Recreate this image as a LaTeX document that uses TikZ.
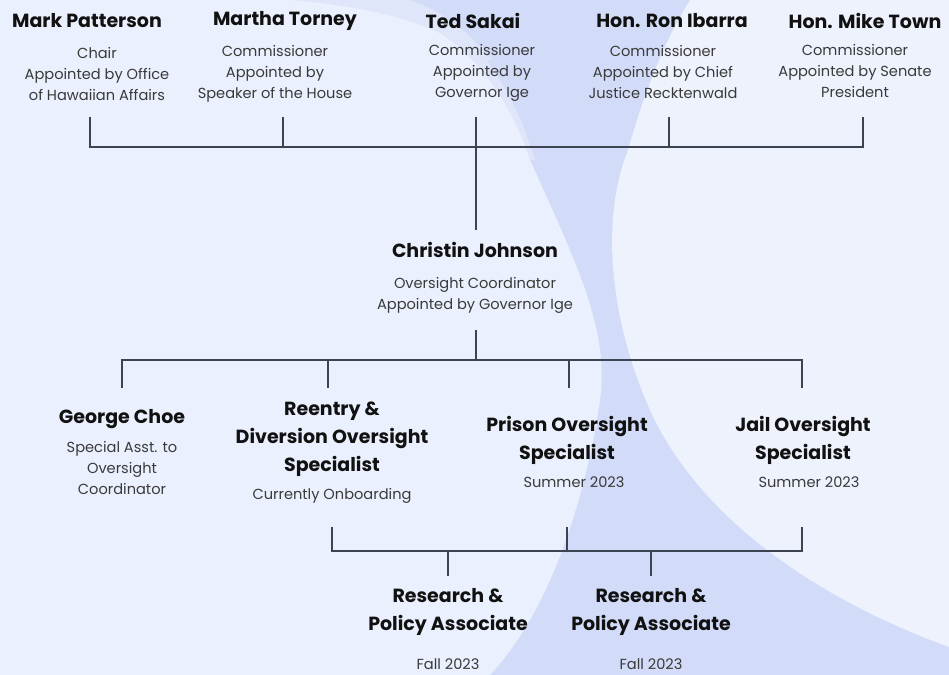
\documentclass[tikz,border=0pt]{standalone}
\usepackage{fontspec}
\setmainfont{Poppins}
\definecolor{bgbase}{HTML}{EAF0FD}
\definecolor{bglight}{HTML}{EDF2FD}
\definecolor{bgmid}{HTML}{DFE6FA}
\definecolor{bgdark}{HTML}{D2DBF8}
\definecolor{wirecol}{HTML}{3D4451}
\definecolor{namecol}{HTML}{111111}
\definecolor{subcol}{HTML}{3A3A3A}
\begin{document}
\begin{tikzpicture}[x=0.5pt,y=-0.5pt,
  person/.style={align=center,text=namecol,inner sep=0pt,font=\fontsize{9.5}{14}\selectfont\bfseries},
  role/.style={align=center,text=subcol,inner sep=0pt,font=\fontsize{7.3}{10.5}\selectfont},
  wire/.style={draw=wirecol,line width=1pt}]
\useasboundingbox (0,0) rectangle (949,675);
\fill[bgdark] (0,0) rectangle (949,675);
\fill[bgmid] (0,0) -- (400,0) .. controls (470,20) and (510,80) .. (535,160) -- (0,160) -- cycle;
\fill[bgbase] (0,0) -- (360,0) .. controls (440,15) and (500,70) .. (530,160)
  .. controls (575,260) and (610,330) .. (600,400)
  .. controls (590,470) and (560,600) .. (490,675) -- (0,675) -- cycle;
\fill[bgmid] (290,0) .. controls (390,8) and (450,30) .. (480,60) -- (600,60) -- (600,0) -- cycle;
\fill[bgdark] (410,0) .. controls (470,20) and (520,80) .. (540,160) -- (700,160) -- (700,0) -- cycle;
\fill[bglight] (690,0) .. controls (665,40) and (645,90) .. (628,150)
  .. controls (600,220) and (610,320) .. (650,410)
  .. controls (700,520) and (820,600) .. (949,647) -- (949,0) -- cycle;

\node[person] (mp) at (87,21) {Mark Patterson};
\node[person] (mt) at (285,21) {Martha Torney};
\node[person] (ts) at (473,21) {Ted Sakai};
\node[person] (ri) at (672,21) {Hon. Ron Ibarra};
\node[person] (mtw) at (865,21) {Hon. Mike Town};
\node[role] (mpsub) at (97,74) {Chair\\Appointed by Office\\of Hawaiian Affairs};
\node[role] (mtsub) at (275,74) {Commissioner\\Appointed by\\Speaker of the House};
\node[role] (tssub) at (482,73) {Commissioner\\Appointed by\\Governor Ige};
\node[role] (risub) at (663,72) {Commissioner\\Appointed by Chief\\Justice Recktenwald};
\node[role] (mtwsub) at (855,71) {Commissioner\\Appointed by Senate\\President};

\node[person] (cj) at (475,250) {Christin Johnson};
\node[role] (cjsub) at (475,295) {Oversight Coordinator\\Appointed by Governor Ige};

\node[person] (gc) at (122,419) {George Choe};
\node[role] (gcsub) at (122,468) {Special Asst. to\\Oversight\\Coordinator};
\node[person] (rd) at (332,439) {Reentry \&\\Diversion Oversight\\Specialist};
\node[role] (rdsub) at (332,496) {Currently Onboarding};
\node[person] (po) at (567,440) {Prison Oversight\\Specialist};
\node[role] (posub) at (574,482) {Summer 2023};
\node[person] (jo) at (803,440) {Jail Oversight\\Specialist};
\node[role] (josub) at (809,482) {Summer 2023};

\node[person] (ra1) at (448,612) {Research \&\\Policy Associate};
\node[role] (ra1sub) at (448,664) {Fall 2023};
\node[person] (ra2) at (651,612) {Research \&\\Policy Associate};
\node[role] (ra2sub) at (651,664) {Fall 2023};

\coordinate (k1) at (90,117);
\coordinate (k2) at (283,117);
\coordinate (k3) at (476,117);
\coordinate (k4) at (669,117);
\coordinate (k5) at (863,117);
\coordinate (topbus) at (476,147);
\coordinate (cjin) at (476,230);
\draw[wire] (k1) |- (topbus) -| (k5);
\draw[wire] (k2) -- (k2 |- topbus);
\draw[wire] (k4) -- (k4 |- topbus);
\draw[wire] (k3) -- (cjin);

\coordinate (cjout) at (476,330);
\coordinate (midbus) at (476,360);
\coordinate (d1) at (122,388);
\coordinate (d2) at (328,388);
\coordinate (d3) at (569,388);
\coordinate (d4) at (802,388);
\draw[wire] (cjout) -- (midbus);
\draw[wire] (d1) |- (midbus) -| (d4);
\draw[wire] (d2) -- (d2 |- midbus);
\draw[wire] (d3) -- (d3 |- midbus);

\coordinate (u1) at (332,527);
\coordinate (u2) at (567,527);
\coordinate (u3) at (802,527);
\coordinate (lowbus) at (567,551);
\coordinate (r1) at (448,576);
\coordinate (r2) at (651,576);
\draw[wire] (u1) |- (lowbus) -| (u3);
\draw[wire] (u2) -- (lowbus);
\draw[wire] (r1) -- (r1 |- lowbus);
\draw[wire] (r2) -- (r2 |- lowbus);
\end{tikzpicture}
\end{document}
